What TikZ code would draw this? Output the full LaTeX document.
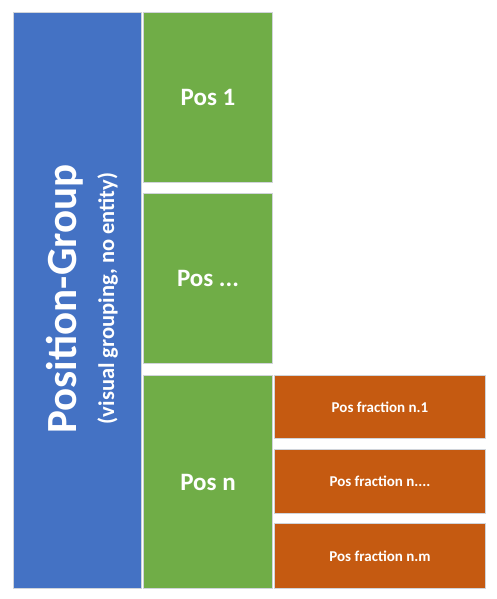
\documentclass[tikz,border=0pt]{standalone}
\usepackage{fontspec}
\setmainfont{Carlito}
\definecolor{cblue}{HTML}{4472C4}
\definecolor{cgreen}{HTML}{70AD47}
\definecolor{corange}{HTML}{C55A11}
\definecolor{boxline}{HTML}{D0D4DA}
\begin{document}
\begin{tikzpicture}[x=1pt,y=-1pt,
  box/.style={draw=boxline, line width=1pt, inner sep=0pt},
  lbl/.style={text=white, font=\bfseries, inner sep=0pt}]
\useasboundingbox[fill=white] (0,0) rectangle (496,599);
% blue group
\node[box, fill=cblue, minimum width=128pt, minimum height=576pt, anchor=north west] (grp) at (13,12) {};
\node[lbl, rotate=90, anchor=base, font=\fontsize{43}{46}\selectfont\bfseries] (grpt) at (76,299) {Position-Group};
\node[lbl, rotate=90, anchor=base, font=\fontsize{22.5}{26}\selectfont\bfseries] (grps) at (114,298.5) {(visual grouping, no entity)};
% green
\node[box, fill=cgreen, minimum width=129pt, minimum height=170pt, anchor=north west] (p1) at (143,12) {};
\node[box, fill=cgreen, minimum width=129pt, minimum height=170pt, anchor=north west] (pd) at (143,193) {};
\node[box, fill=cgreen, minimum width=129pt, minimum height=213pt, anchor=north west] (pn) at (143,375) {};
\node[lbl, font=\fontsize{25}{30}\selectfont\bfseries] (p1t) at (p1.center) {Pos 1};
\node[lbl, font=\fontsize{25}{30}\selectfont\bfseries] (pdt) at (pd.center) {Pos ...};
\node[lbl, font=\fontsize{25}{30}\selectfont\bfseries] (pnt) at (pn.center) {Pos n};
% orange
\node[box, fill=corange, minimum width=211pt, minimum height=63pt, anchor=north west] (f1) at (274,375) {};
\node[box, fill=corange, minimum width=211pt, minimum height=64pt, anchor=north west] (f2) at (274,449) {};
\node[box, fill=corange, minimum width=211pt, minimum height=65pt, anchor=north west] (f3) at (274,523) {};
\node[lbl, font=\fontsize{15}{18}\selectfont\bfseries] (f1t) at (f1.center) {Pos fraction n.1};
\node[lbl, font=\fontsize{15}{18}\selectfont\bfseries] (f2t) at (f2.center) {Pos fraction n....};
\node[lbl, font=\fontsize{15}{18}\selectfont\bfseries] (f3t) at (f3.center) {Pos fraction n.m};
\end{tikzpicture}
\end{document}
